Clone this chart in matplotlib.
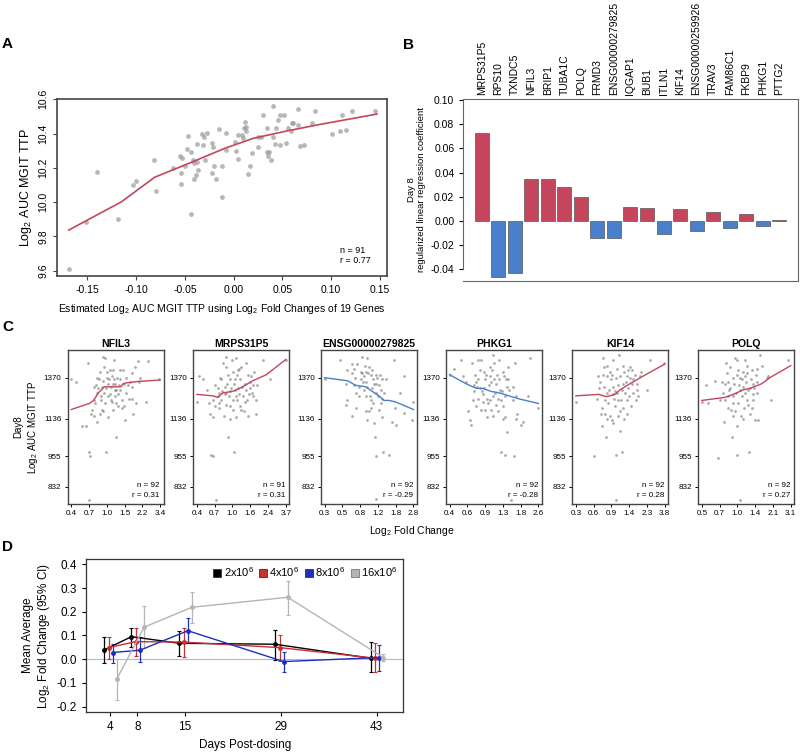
import numpy as np
import matplotlib
matplotlib.use("Agg")
import matplotlib.pyplot as plt
from matplotlib.lines import Line2D
from matplotlib.ticker import FormatStrFormatter

plt.rcParams['font.family'] = ['Liberation Sans', 'DejaVu Sans']
plt.rcParams['mathtext.fontset'] = 'custom'
plt.rcParams['mathtext.rm'] = 'Liberation Sans'
plt.rcParams['mathtext.it'] = 'Liberation Sans:italic'
plt.rcParams['axes.unicode_minus'] = False

# ---------------- Panel A data ----------------
a_est = [-0.169, -0.140, -0.119, -0.103, -0.100, -0.082, -0.080, -0.062, -0.055, -0.053,
         -0.054, -0.054, -0.050, -0.048, -0.047, -0.044, -0.044, -0.042, -0.041, -0.041,
         -0.039, -0.038, -0.036, -0.038, -0.032, -0.030, -0.031, -0.029, -0.027, -0.022,
         -0.022, -0.021, -0.020, -0.018, -0.015, -0.012, -0.012, -0.008, -0.008, 0.001,
         0.002, 0.004, 0.005, 0.009, 0.010, 0.011, 0.012, 0.013, 0.013, 0.015,
         0.017, 0.019, 0.025, 0.025, 0.028, 0.030, 0.034, 0.034, 0.035, 0.036,
         0.038, 0.040, 0.040, 0.042, 0.043, 0.046, 0.048, 0.048, 0.052, 0.054,
         0.056, 0.059, 0.060, 0.061, 0.066, 0.066, 0.068, 0.072, 0.080, 0.083,
         0.101, 0.109, 0.111, 0.115, 0.121, 0.145, -0.151]
a_auc = [9.608, 10.178, 9.900, 10.100, 10.123, 10.248, 10.063, 10.197, 10.269, 10.256,
         10.172, 10.104, 10.212, 10.310, 10.386, 10.295, 9.929, 10.246, 10.227, 10.137,
         10.156, 10.339, 10.188, 10.236, 10.398, 10.378, 10.333, 10.244, 10.401, 10.347,
         10.170, 10.320, 10.211, 10.137, 10.429, 10.213, 10.028, 10.405, 10.302, 10.351,
         10.300, 10.252, 10.390, 10.390, 10.374, 10.435, 10.468, 10.439, 10.415, 10.162,
         10.213, 10.284, 10.380, 10.324, 10.380, 10.507, 10.433, 10.295, 10.271, 10.295,
         10.244, 10.380, 10.561, 10.339, 10.435, 10.481, 10.507, 10.333, 10.507, 10.343,
         10.435, 10.415, 10.460, 10.460, 10.544, 10.448, 10.328, 10.333, 10.462, 10.534,
         10.398, 10.417, 10.507, 10.421, 10.534, 10.534, 9.886]
a_fit_x = [-0.169, -0.153, -0.115, -0.081, -0.046, -0.009, 0.020, 0.0545, 0.089, 0.123, 0.147]
a_fit_y = [9.837, 9.886, 10.002, 10.145, 10.226, 10.314, 10.372, 10.415, 10.454, 10.489, 10.514]

# ---------------- Panel B data ----------------
b_genes = ['MRPS31P5', 'RPS10', 'TXNDC5', 'NFIL3', 'BRIP1', 'TUBA1C', 'POLQ', 'FRMD3',
           'ENSG00000279825', 'IQGAP1', 'BUB1', 'ITLN1', 'KIF14', 'ENSG00000259926',
           'TRAV3', 'FAM86C1', 'FKBP9', 'PHKG1', 'PTTG2']
b_coef = [0.0724, -0.0464, -0.0428, 0.0348, 0.0343, 0.0282, 0.0196, -0.0138, -0.0138,
          0.0113, 0.0110, -0.0105, 0.0097, -0.0080, 0.0075, -0.0058, 0.0058, -0.0039, 0.0011]

# ---------------- Panel C data ----------------
c_genes = ['NFIL3', 'MRPS31P5', 'ENSG00000279825', 'PHKG1', 'KIF14', 'POLQ']
c_xrange = [(-1.20, 1.75), (-1.22, 1.89), (-1.59, 1.485), (-1.20, 1.38), (-1.55, 1.92), (-1.125, 1.63)]
c_xticklabels = [['0.4', '0.7', '1.0', '1.5', '2.2', '3.4'],
                 ['0.4', '0.7', '1.0', '1.6', '2.4', '3.7'],
                 ['0.3', '0.5', '0.8', '1.2', '1.8', '2.8'],
                 ['0.4', '0.6', '0.9', '1.3', '1.8', '2.6'],
                 ['0.3', '0.6', '0.9', '1.4', '2.3', '3.8'],
                 ['0.5', '0.7', '1.0', '1.4', '2.1', '3.1']]
c_n = [92, 91, 92, 92, 92, 92]
c_r = ['0.31', '0.31', '-0.29', '-0.28', '0.28', '0.27']
c_yticks = [9.70, 9.90, 10.15, 10.42]
c_yticklabels = ['832', '955', '1136', '1370']

nfil3_x = [-1.20, -1.04, -0.85, -0.71, -0.63, -0.60, -0.57, -0.60, -0.55, -0.52, -0.46, -0.43,
           -0.41, -0.38, -0.36, -0.33, -0.30, -0.27, -0.25, -0.22, -0.19, -0.19, -0.16, -0.14,
           -0.11, -0.10, -0.08, -0.07, -0.05, -0.05, -0.03, 0.00, 0.03, 0.03, 0.06, 0.08, 0.08,
           0.11, 0.14, 0.14, 0.17, 0.19, 0.19, 0.22, 0.25, 0.25, 0.28, 0.30, 0.30, 0.32, 0.36,
           0.38, 0.41, 0.43, 0.47, 0.50, 0.52, 0.54, 0.58, 0.61, 0.63, 0.69, 0.72, 0.76, 0.80,
           0.83, 0.85, 0.91, 0.96, 1.02, 1.05, 1.07, 1.29, 1.35, 1.71, -0.25, -0.14, 0.03, 0.25,
           0.36, 0.41, -0.36, -0.45, -0.21, 0.12, 0.54, 0.22, 0.80]
nfil3_y = [10.41, 10.39, 10.10, 10.10, 10.52, 9.93, 9.90, 9.61, 10.18, 10.21, 10.27, 10.17,
           10.25, 10.37, 10.13, 10.32, 10.35, 10.41, 10.46, 10.30, 10.21, 10.36, 10.40, 10.56,
           10.49, 10.32, 10.25, 10.55, 9.93, 10.35, 10.42, 10.46, 10.30, 10.38, 10.41, 10.31, 10.47,
           10.36, 10.43, 10.26, 10.47, 10.38, 10.21, 10.54, 10.34, 10.30, 10.25, 10.34, 10.03, 10.42, 10.31,
           10.37, 10.41, 10.34, 10.27, 10.22, 10.47, 10.38, 10.14, 10.32, 10.42, 10.37, 10.28, 10.39, 10.45,
           10.36, 10.18, 10.49, 10.25, 10.53, 10.39, 10.42, 10.26, 10.53, 10.41, 10.18, 10.20, 10.16, 10.38,
           10.23, 10.47, 10.42, 10.36, 10.27, 10.27, 10.23, 10.41, 10.28]
nfil3_fit_x = [-1.20, -0.60, -0.46, -0.30, -0.10, 0.00, 0.45, 0.52, 0.60, 1.00, 1.75]
nfil3_fit_y = [10.21, 10.25, 10.27, 10.32, 10.36, 10.36, 10.36, 10.38, 10.385, 10.395, 10.405]

mrps_x = [-1.22, -1.15, -1.01, -0.87, -0.75, -0.72, -0.66, -0.66, -0.60, -0.54, -0.57, -0.48,
          -0.45, -0.43, -0.40, -0.37, -0.33, -0.31, -0.28, -0.25, -0.25, -0.21, -0.19, -0.17,
          -0.13, -0.13, -0.10, -0.07, -0.05, -0.02, 0.02, 0.04, 0.04, 0.07, 0.10, 0.11, 0.14,
          0.16, 0.18, 0.18, 0.22, 0.22, 0.25, 0.28, 0.30, 0.33, 0.37, 0.39, 0.42, 0.45, 0.49,
          0.51, 0.53, 0.57, 0.60, 0.65, 0.69, 0.72, 0.74, 0.77, 0.84, 0.88, 1.09, 1.35, 1.89,
          -0.78, -0.48, -0.37, -0.19, -0.07, 0.08, 0.25, 0.45, 0.63, 0.04, -0.07, -0.43, 0.57,
          0.16, 0.33, 0.74, -0.66, 0.86, -0.19]
mrps_y = [10.26, 10.43, 10.41, 10.34, 10.18, 9.91, 9.90, 10.27, 10.23, 9.61, 10.37, 10.35,
          10.25, 10.22, 10.42, 10.27, 10.33, 10.52, 10.17, 10.31, 10.36, 10.56, 10.24, 10.38,
          10.44, 10.03, 10.30, 10.33, 10.41, 10.35, 10.54, 10.27, 10.21, 9.93, 10.34, 10.41, 10.16,
          10.55, 10.44, 10.27, 10.47, 10.35, 10.31, 10.23, 10.41, 10.49, 10.36, 10.30, 10.20, 10.38, 10.52,
          10.34, 10.27, 10.17, 10.31, 10.39, 10.43, 10.32, 10.30, 10.46, 10.18, 10.37, 10.54, 10.41, 10.54,
          10.25, 10.30, 10.41, 10.32, 10.23, 10.38, 10.48, 10.26, 10.35, 10.46, 10.15, 10.32, 10.44,
          10.30, 10.21, 10.37, 10.16, 10.27, 10.49]
mrps_fit_x = [-1.22, -0.66, -0.48, -0.31, 0.04, 0.28, 0.74, 1.21, 1.89]
mrps_fit_y = [10.31, 10.30, 10.29, 10.32, 10.33, 10.35, 10.40, 10.44, 10.54]

ensg_x = [-1.59, -1.04, -0.86, -0.80, -0.65, -0.63, -0.57, -0.54, -0.51, -0.46, -0.40, -0.34,
          -0.31, -0.28, -0.26, -0.23, -0.19, -0.17, -0.15, -0.13, -0.11, -0.08, -0.05, -0.03,
          0.00, 0.00, 0.04, 0.06, 0.09, 0.12, 0.12, 0.16, 0.18, 0.18, 0.20, 0.24, 0.27, 0.29,
          0.32, 0.35, 0.39, 0.41, 0.43, 0.47, 0.53, 0.64, 0.76, 0.81, 0.85, 0.87, 1.01, 1.16,
          1.16, 1.43, 1.485, 0.20, -0.63, -0.17, 0.00, -0.11, -0.40, -0.80, -0.86, -0.23, 0.10,
          0.29, -0.51, 0.41, -0.34, -0.57, 0.18, -0.05, 0.35, -0.17]
ensg_y = [10.41, 10.54, 10.38, 10.47, 10.51, 10.45, 10.48, 10.42, 10.32, 10.51, 10.36, 10.41,
          10.56, 10.45, 10.39, 10.43, 10.50, 10.46, 10.39, 10.55, 10.36, 10.45, 10.20, 10.30,
          10.44, 10.22, 10.35, 10.47, 10.41, 10.38, 10.12, 10.03, 10.32, 9.90, 10.44, 10.42, 10.30, 10.37,
          10.44, 10.25, 10.16, 10.28, 9.93, 10.32, 10.41, 9.91, 10.13, 10.54, 10.22, 10.11, 10.32, 10.43,
          10.19, 10.14, 10.26, 9.62, 10.17, 10.20, 10.27, 10.14, 10.30, 10.27, 10.24, 10.34, 10.25,
          10.21, 10.22, 10.41, 10.46, 10.37, 10.38, 10.49, 10.34, 10.30]
ensg_fit_x = [-1.59, -0.80, -0.51, -0.17, 0.06, 0.29, 0.47, 0.64, 0.87, 1.485]
ensg_fit_y = [10.42, 10.40, 10.37, 10.36, 10.33, 10.30, 10.27, 10.27, 10.26, 10.21]

phkg_x = [-1.20, -1.08, -0.86, -0.81, -0.72, -0.67, -0.62, -0.57, -0.55, -0.51, -0.48, -0.45,
          -0.43, -0.41, -0.38, -0.37, -0.33, -0.31, -0.29, -0.26, -0.24, -0.22, -0.19, -0.18,
          -0.16, -0.12, -0.09, -0.06, -0.04, -0.03, 0.00, 0.03, 0.05, 0.07, 0.10, 0.13, 0.15,
          0.17, 0.20, 0.22, 0.24, 0.26, 0.29, 0.30, 0.32, 0.34, 0.36, 0.38, 0.40, 0.42, 0.44,
          0.46, 0.48, 0.51, 0.53, 0.63, 0.68, 0.71, 0.73, 0.77, 0.87, 0.92, 1.09, 1.13, 1.38,
          -0.14, 0.24, 0.00, -0.29, 0.15, 0.42, -0.38, -0.19, 0.10, -0.04, 0.34, 0.63, -0.48,
          -0.12, 0.07, 0.73, 0.51, -0.43, 0.58]
phkg_y = [10.44, 10.48, 10.54, 10.43, 10.39, 10.20, 10.14, 10.11, 10.52, 10.27, 10.33, 10.44,
          10.39, 10.36, 10.54, 10.28, 10.35, 10.47, 10.54, 10.33, 10.31, 10.26, 10.46, 10.41,
          10.21, 10.28, 10.25, 10.37, 10.43, 10.27, 10.39, 10.47, 10.30, 10.57, 10.52, 10.32, 10.38,
          10.44, 10.20, 10.28, 10.41, 10.34, 9.93, 10.27, 10.33, 10.46, 10.15, 10.43, 10.16, 9.91, 10.41,
          10.36, 10.06, 10.49, 10.34, 10.36, 9.90, 10.52, 10.15, 10.18, 10.11, 10.13, 10.30, 10.55, 10.22,
          10.44, 10.54, 10.21, 10.21, 10.24, 10.30, 10.41, 10.35, 10.41, 10.49, 10.23, 10.27, 10.37,
          10.16, 10.17, 10.30, 10.41, 10.23, 9.61]
phkg_fit_x = [-1.20, -0.72, -0.43, -0.24, 0.00, 0.24, 0.53, 0.82, 1.38]
phkg_fit_y = [10.44, 10.38, 10.35, 10.35, 10.33, 10.32, 10.30, 10.28, 10.25]

kif_x = [-1.55, -0.84, -0.73, -0.63, -0.60, -0.57, -0.54, -0.54, -0.50, -0.48, -0.45, -0.41,
         -0.37, -0.35, -0.32, -0.28, -0.24, -0.22, -0.22, -0.18, -0.15, -0.11, -0.09, -0.09,
         -0.05, -0.02, 0.02, 0.02, 0.04, 0.07, 0.11, 0.11, 0.15, 0.17, 0.17, 0.20, 0.24, 0.24,
         0.28, 0.30, 0.33, 0.37, 0.41, 0.43, 0.46, 0.50, 0.50, 0.53, 0.56, 0.59, 0.63, 0.66,
         0.69, 0.75, 0.79, 0.85, 0.88, 0.95, 1.23, 1.36, 1.88, 0.02, -0.35, -0.45, -0.11, 0.28,
         0.69, 0.43, -0.41, -0.15, 0.11, 0.56, 1.01, -0.67, -0.02, 0.17, 0.33, -0.35, 0.82]
kif_y = [10.26, 9.90, 10.28, 10.35, 10.39, 10.18, 10.22, 10.10, 10.55, 10.44, 10.49, 10.27,
         10.03, 10.15, 10.43, 10.25, 10.34, 10.46, 10.17, 10.41, 10.44, 10.31, 10.36, 10.12,
         10.28, 10.23, 9.91, 10.42, 10.48, 10.32, 10.37, 10.17, 10.57, 10.07, 10.43, 10.27, 10.34, 9.93,
         10.38, 10.22, 10.46, 10.32, 10.39, 10.18, 10.27, 10.47, 10.35, 10.30, 10.42, 10.23, 10.38, 10.47,
         10.32, 10.44, 10.27, 10.38, 10.30, 10.43, 10.34, 10.54, 10.52, 9.61, 10.32, 10.36, 10.54, 10.50,
         10.41, 10.43, 10.18, 10.14, 10.27, 10.49, 10.46, 10.43, 10.33, 10.20, 10.15, 10.50, 10.34]
kif_fit_x = [-1.55, -0.67, -0.35, -0.02, 0.17, 0.56, 1.07, 1.92]
kif_fit_y = [10.30, 10.31, 10.295, 10.31, 10.34, 10.38, 10.43, 10.51]

polq_x = [-1.125, -0.99, -0.92, -0.71, -0.61, -0.51, -0.48, -0.44, -0.41, -0.37, -0.35, -0.33,
          -0.30, -0.27, -0.25, -0.23, -0.20, -0.17, -0.15, -0.13, -0.10, -0.10, -0.07, -0.05,
          -0.03, -0.03, 0.01, 0.04, 0.06, 0.08, 0.11, 0.14, 0.16, 0.18, 0.21, 0.21, 0.24, 0.26,
          0.28, 0.31, 0.35, 0.37, 0.39, 0.42, 0.45, 0.47, 0.49, 0.52, 0.55, 0.57, 0.59, 0.62,
          0.67, 0.73, 0.88, 0.93, 1.03, 1.54, 0.06, -0.25, -0.15, 0.01, 0.11, 0.31, 0.47, 0.16,
          -0.30, 0.26, -0.05, -0.56, 0.57, 0.37, -0.15, 0.06, 0.42, -0.41, 0.21]
polq_y = [10.26, 10.37, 10.25, 10.40, 9.89, 10.39, 10.32, 10.13, 10.27, 10.52, 10.45, 10.22,
          10.39, 10.34, 10.49, 10.21, 10.03, 10.30, 10.42, 10.38, 10.55, 10.20, 10.32, 10.44,
          9.91, 10.54, 10.25, 10.37, 10.42, 10.17, 10.30, 10.46, 10.36, 10.22, 10.54, 10.32, 10.39, 10.27,
          10.45, 10.34, 9.93, 10.18, 10.41, 10.47, 10.27, 10.38, 10.35, 10.14, 10.44, 10.32, 10.39, 10.14,
          10.57, 10.50, 10.42, 10.43, 10.27, 10.54, 9.61, 10.35, 10.25, 10.47, 10.41, 10.24, 10.31, 10.15,
          10.30, 10.50, 10.10, 10.27, 10.48, 10.35, 10.17, 10.34, 10.22, 10.38, 10.43]
polq_fit_x = [-1.125, -0.41, -0.15, 0.16, 0.37, 0.73, 0.98, 1.63]
polq_fit_y = [10.27, 10.29, 10.31, 10.34, 10.35, 10.38, 10.42, 10.50]

c_points = [(nfil3_x, nfil3_y), (mrps_x, mrps_y), (ensg_x, ensg_y),
            (phkg_x, phkg_y), (kif_x, kif_y), (polq_x, polq_y)]
c_fits = [(nfil3_fit_x, nfil3_fit_y), (mrps_fit_x, mrps_fit_y), (ensg_fit_x, ensg_fit_y),
          (phkg_fit_x, phkg_fit_y), (kif_fit_x, kif_fit_y), (polq_fit_x, polq_fit_y)]

# ---------------- Panel D data ----------------
d_days = [4, 8, 15, 29, 43]
d_groups = ['2x10$^6$', '4x10$^6$', '8x10$^6$', '16x10$^6$']
d_mean = [[0.039, 0.095, 0.067, 0.063, 0.004],
          [0.049, 0.074, 0.072, 0.049, 0.004],
          [0.028, 0.038, 0.120, -0.010, 0.007],
          [-0.084, 0.135, 0.219, 0.261, 0.007]]
d_lo = [[-0.017, 0.053, 0.015, -0.003, -0.056],
        [0.000, 0.014, 0.011, -0.006, -0.056],
        [-0.015, -0.010, 0.067, -0.052, -0.049],
        [-0.171, 0.046, 0.152, 0.187, -0.006]]
d_hi = [[0.093, 0.133, 0.120, 0.123, 0.072],
        [0.093, 0.133, 0.133, 0.100, 0.067],
        [0.065, 0.093, 0.173, 0.032, 0.060],
        [0.000, 0.225, 0.285, 0.331, 0.022]]

RED = '#C5455C'
BLUE = '#4A7FCB'
D_COLORS = ['#000000', '#C8302F', '#1C30C0', '#B5B5B5']
D_DODGE = [-0.85, -0.2, 0.4, 1.0]
W, H = 800, 754


def box(px_left, px_top, px_w, px_h):
    return [px_left / W, 1 - (px_top + px_h) / H, px_w / W, px_h / H]


def style_spines(ax, color='#444444', lw=1.0):
    for s in ax.spines.values():
        s.set_color(color)
        s.set_linewidth(lw)


fig = plt.figure(figsize=(W / 100, H / 100), dpi=100)

# ---------------- A ----------------
ax = fig.add_axes(box(57.3, 99.3, 329.4, 176.7))
ax.scatter(a_est, a_auc, s=12, color='#9a9a9a', alpha=0.7, linewidths=0)
ax.plot(a_fit_x, a_fit_y, color=RED, lw=1.2)
ax.set_xlim(-0.1808, 0.157)
ax.set_ylim(9.569, 10.599)
ax.set_xticks(np.arange(-0.15, 0.151, 0.05))
ax.xaxis.set_major_formatter(FormatStrFormatter('%.2f'))
ax.set_yticks(np.arange(9.6, 10.61, 0.2))
ax.yaxis.set_major_formatter(FormatStrFormatter('%.1f'))
ax.tick_params(labelsize=7.5, length=3, width=0.8, color='#444444')
for lab in ax.get_yticklabels():
    lab.set_rotation(90)
    lab.set_va('center')
ax.set_ylabel('Log$_2$ AUC MGIT TTP', fontsize=9, labelpad=3)
ax.set_xlabel('Estimated Log$_2$ AUC MGIT TTP using Log$_2$ Fold Changes of 19 Genes',
              fontsize=7.5, labelpad=5)
ax.text(0.858, 0.147, 'n = 91', transform=ax.transAxes, fontsize=6.5, va='center')
ax.text(0.858, 0.085, 'r = 0.77', transform=ax.transAxes, fontsize=6.5, va='center')
style_spines(ax, lw=1.2)

# ---------------- B ----------------
ax = fig.add_axes(box(463.3, 99.3, 335, 181.4))
pos = np.arange(len(b_genes))
cols = [RED if v > 0 else BLUE for v in b_coef]
ax.bar(pos, b_coef, width=0.85, color=cols, edgecolor='#555555', linewidth=0.5)
ax.set_xlim(-1.11, len(b_genes) - 1 + 1.15)
ax.set_ylim(-0.0494, 0.1005)
ax.set_yticks(np.arange(-0.04, 0.101, 0.02))
ax.yaxis.set_major_formatter(FormatStrFormatter('%.2f'))
ax.xaxis.tick_top()
ax.set_xticks(pos)
ax.set_xticklabels(b_genes, rotation=90, fontsize=7.5)
ax.tick_params(axis='x', length=0, pad=3)
ax.tick_params(axis='y', labelsize=7.5, length=3, width=0.8)
ax.spines['left'].set_bounds(-0.04, 0.10)
ax.set_ylabel('Day 8\nregularized linear regression coefficient', fontsize=6.8, labelpad=3)
style_spines(ax, color='#666666', lw=0.8)

# ---------------- C ----------------
c_lefts = [67.7, 193.3, 321.0, 446.0, 572.3, 698.3]
for i, gene in enumerate(c_genes):
    ax = fig.add_axes(box(c_lefts[i], 350, 96, 154))
    xs, ys = c_points[i]
    fx, fy = c_fits[i]
    r_val = float(c_r[i])
    ax.scatter(xs, ys, s=4, color='#808080', alpha=0.65, linewidths=0)
    ax.plot(fx, fy, color=RED if r_val > 0 else BLUE, lw=1.0)
    xmin, xmax = c_xrange[i]
    pad = (xmax - xmin) * 0.04
    ax.set_xlim(xmin - pad, xmax + pad)
    ax.set_ylim(9.586, 10.603)
    ax.set_xticks(np.linspace(xmin, xmax, 6))
    ax.set_xticklabels(c_xticklabels[i])
    ax.set_yticks(c_yticks)
    ax.set_yticklabels(c_yticklabels)
    ax.tick_params(labelsize=5.8, length=2.5, width=0.7, pad=2)
    ax.set_title(gene, fontsize=7.5, fontweight='bold', pad=2)
    ax.text(0.96, 0.123, 'n = %d' % c_n[i], transform=ax.transAxes, fontsize=5.8,
            ha='right', va='center')
    ax.text(0.96, 0.058, 'r = %s' % c_r[i], transform=ax.transAxes, fontsize=5.8,
            ha='right', va='center')
    style_spines(ax, lw=1.0)
    if i == 0:
        ax.set_ylabel('Day8\nLog$_2$ AUC MGIT TTP', fontsize=7, labelpad=3)
fig.text(412 / W, 1 - 531 / H, 'Log$_2$ Fold Change', fontsize=7.5, ha='center', va='center')

# ---------------- D ----------------
ax = fig.add_axes(box(86, 559, 317.3, 153.3))
ax.axhline(0, color='#BBBBBB', lw=0.8, zorder=0)
for g in range(len(d_groups)):
    xs = np.array(d_days) + D_DODGE[g]
    m = np.array(d_mean[g])
    err = [m - np.array(d_lo[g]), np.array(d_hi[g]) - m]
    ax.errorbar(xs, m, yerr=err, color=D_COLORS[g], lw=1.0, elinewidth=0.9,
                capsize=1.3, capthick=0.8, marker='o', markersize=2.5)
ax.set_xlim(0.5, 46.9)
ax.set_ylim(-0.224, 0.4225)
ax.set_xticks(d_days)
ax.set_yticks(np.arange(-0.2, 0.41, 0.1))
ax.yaxis.set_major_formatter(FormatStrFormatter('%.1f'))
ax.tick_params(labelsize=8.5, length=3, width=0.8)
ax.set_ylabel('Mean Average\nLog$_2$ Fold Change (95% CI)', fontsize=8.5, labelpad=3)
ax.set_xlabel('Days Post-dosing', fontsize=8.5, labelpad=4)
handles = [Line2D([], [], linestyle='none', marker='s', markersize=5.5,
                  markerfacecolor=D_COLORS[g], markeredgecolor='#333333' if g < 3 else '#777777',
                  markeredgewidth=0.6) for g in range(len(d_groups))]
ax.legend(handles, d_groups, loc='upper right', ncol=4, fontsize=8, frameon=False,
          handlelength=0.7, handletextpad=0.2, columnspacing=0.5, borderaxespad=0.15)
style_spines(ax, color='#333333', lw=0.9)

# ---------------- panel letters ----------------
for letter, px, py in [('A', 2, 44), ('B', 403, 45), ('C', 2, 327), ('D', 2, 547)]:
    fig.text(px / W, 1 - py / H, letter, fontsize=11, fontweight='bold', va='center', ha='left')

fig.savefig('out.png', dpi=100)
